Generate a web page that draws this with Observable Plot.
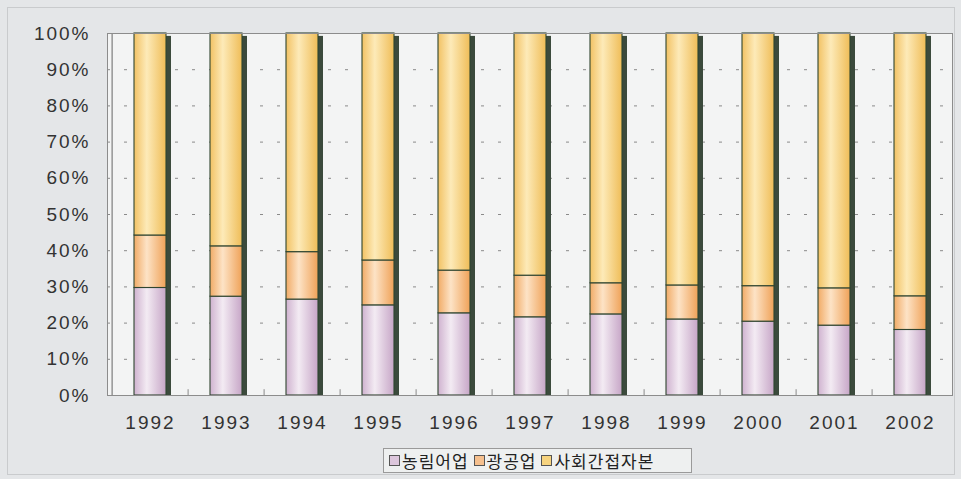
<!DOCTYPE html>
<html><head><meta charset="utf-8">
<script src="https://cdn.jsdelivr.net/npm/d3@7"></script>
<script src="https://cdn.jsdelivr.net/npm/@observablehq/plot@0.6"></script>
<style>
html,body{margin:0;padding:0;background:#e4e6e8;}
#wrap{position:relative;width:961px;height:479px;overflow:hidden;}
#border{position:absolute;left:7px;top:7px;width:948px;height:468px;border:1px solid #c9cbcd;box-sizing:border-box;}
#chart{position:absolute;left:0;top:0;}
#legend{position:absolute;left:383px;top:448px;width:309px;height:25px;border:1px solid #9a9a9a;background:#eef0f0;box-sizing:border-box;
  font-family:"Noto Sans CJK KR",sans-serif;font-size:17px;color:#222;letter-spacing:1px;display:flex;align-items:center;padding-left:5px;white-space:nowrap;}
#legend .it{display:flex;align-items:center;margin-right:5px;}
#legend .sw{display:inline-block;width:9px;height:9px;border:1px solid #555;margin-right:2px;}
</style></head>
<body>
<div id="wrap"><div id="border"></div><div id="chart"></div><div id="legend"></div></div>
<script>
const years = ["1992","1993","1994","1995","1996","1997","1998","1999","2000","2001","2002"];
const seriesNames = ["농림어업","광공업","사회간접자본"];
const agri   = [29.7, 27.3, 26.5, 24.9, 22.7, 21.6, 22.4, 21.0, 20.4, 19.3, 18.1];
const mining = [14.5, 13.9, 13.1, 12.4, 11.8, 11.5, 8.6, 9.4, 9.8, 10.3, 9.3];
const yTicks = [0,10,20,30,40,50,60,70,80,90,100];
const gridTicks = [10,20,30,40,50,60,70,80,90];
const seriesColors = ["#dcc6dc","#f6c08e","#f7d47f"];

const rows = [];
years.forEach((yr,i)=>{
  const vals = [agri[i], mining[i], +(100-agri[i]-mining[i]).toFixed(1)];
  seriesNames.forEach((s,j)=>rows.push({year:yr, sector:s, value:vals[j]}));
});
const totals = years.map(y=>({year:y, v:99.2}));

const chart = Plot.plot({
  width: 961, height: 440,
  marginLeft: 107, marginRight: 9, marginTop: 33, marginBottom: 45,
  style: {background:"transparent", fontFamily:"'Liberation Sans', Arial, sans-serif", fontSize:"19px", color:"#333"},
  x: {domain: years, padding: 0, label: null},
  y: {domain: [0,100], label: null},
  color: {domain: seriesNames, range: ["url(#gAgri)","url(#gMin)","url(#gSoc)"]},
  marks: [
    Plot.frame({fill:"#f3f4f4", stroke:null}),
    Plot.ruleY(gridTicks, {stroke:"#8a8a8a", strokeDasharray:"3,14", strokeWidth:1}),
    Plot.ruleX(years.slice(1), {x: d=>d, y1: 0, y2: 1.6, dx: -38.4, stroke:"#8a8a8a"}),
    Plot.barY(totals, {x:"year", y1:0, y2:"v", fill:"#3b4a3c", insetLeft:22, insetRight:22, dx:5}),
    Plot.barY(rows, {x:"year", y:"value", fill:"sector", stroke:"#2f4530", strokeWidth:1.1, insetLeft:22, insetRight:22}),
    Plot.axisY({ticks: yTicks, tickSize:0, tickPadding:17, tickFormat: d=>d+"%", fontSize:19}),
    Plot.axisX({tickSize:0, tickPadding:20, fontSize:19}),
    Plot.ruleY([0], {stroke:"#555"}),
    Plot.ruleX([years[0]], {dx:-38.4, stroke:"#666"}),
    Plot.frame({stroke:"#8c8c8c"})
  ]
});
const svg = d3.select(chart);
svg.selectAll("text").style("letter-spacing","2px");
svg.insert("defs", ":first-child").html(`
  <linearGradient id="gAgri" x1="0" x2="1" y1="0" y2="0">
    <stop offset="0" stop-color="#cfb2cf"/><stop offset="0.4" stop-color="#f3ebf3"/><stop offset="1" stop-color="#c7a6c7"/>
  </linearGradient>
  <linearGradient id="gMin" x1="0" x2="1" y1="0" y2="0">
    <stop offset="0" stop-color="#f1ab66"/><stop offset="0.4" stop-color="#fde3c6"/><stop offset="1" stop-color="#efa258"/>
  </linearGradient>
  <linearGradient id="gSoc" x1="0" x2="1" y1="0" y2="0">
    <stop offset="0" stop-color="#f2c264"/><stop offset="0.4" stop-color="#fdeab8"/><stop offset="1" stop-color="#efbd58"/>
  </linearGradient>`);
document.getElementById("chart").appendChild(chart);

const leg = document.getElementById("legend");
seriesNames.forEach((s,i)=>{
  const it = document.createElement("span"); it.className="it";
  const sw = document.createElement("span"); sw.className="sw"; sw.style.background = seriesColors[i];
  it.appendChild(sw); it.appendChild(document.createTextNode(s));
  leg.appendChild(it);
});
</script>
</body></html>
